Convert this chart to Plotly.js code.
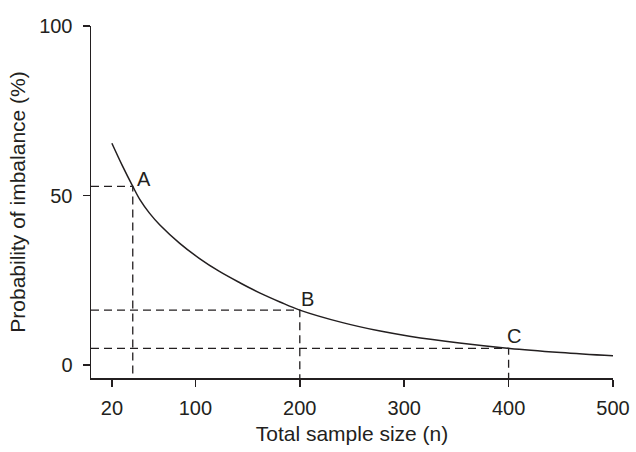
<!DOCTYPE html>
<html>
<head>
<meta charset="utf-8">
<script src="https://cdn.plot.ly/plotly-3.0.1.min.js"></script>
<style>html,body{margin:0;padding:0;background:#fff;}#chart{width:636px;height:452px;}</style>
</head>
<body>
<div id="chart"></div>
<script>
// Curve: total sample size vs probability of imbalance (%)
const sampleSize = [20, 30, 40, 47, 56, 66, 85, 104, 123, 143, 162, 181, 200, 241, 277, 305, 353, 401, 450, 500];
const imbalancePct = [65.4, 58.8, 52.7, 48.7, 44.8, 41.3, 35.9, 31.4, 27.6, 24.2, 21.2, 18.6, 16.2, 12.5, 10.0, 8.5, 6.5, 4.9, 3.7, 2.7];
// Reference points
const refLabels = ["A", "B", "C"];
const refX = [40, 200, 400];
const refY = [52.7, 16.2, 4.9];
// Axis ticks
const xTicks = [20, 100, 200, 300, 400, 500];
const yTicks = [0, 50, 100];

const xMin = 0, xMax = 500, yMin = -3.83, yMax = 100;
const ink = "#231f20";
const fam = "Liberation Sans, Arial, sans-serif";

const traces = [{
  x: sampleSize, y: imbalancePct, type: "scatter", mode: "lines",
  line: {color: ink, width: 1.5, shape: "spline", smoothing: 1},
  hoverinfo: "skip"
}];
refX.forEach((rx, i) => {
  traces.push({
    x: [xMin, rx, rx], y: [refY[i], refY[i], yMin],
    type: "scatter", mode: "lines",
    line: {color: ink, width: 1.3, dash: "8px,5px"},
    hoverinfo: "skip"
  });
});

const shifts = [[11, 7], [8, 11], [5, 12]];
const annotations = refLabels.map((t, i) => ({
  x: refX[i], y: refY[i], text: t, showarrow: false,
  xanchor: "center", yanchor: "middle",
  xshift: shifts[i][0], yshift: shifts[i][1],
  font: {family: fam, size: 20, color: ink}
}));

const layout = {
  width: 636, height: 452,
  margin: {l: 91, r: 23, t: 26, b: 74},
  paper_bgcolor: "#fff", plot_bgcolor: "#fff",
  showlegend: false,
  font: {family: fam, size: 20, color: ink},
  xaxis: {
    range: [xMin, xMax], tickvals: xTicks, ticktext: xTicks.map(String),
    showgrid: false, zeroline: false, showline: true, linecolor: ink, linewidth: 1.5,
    ticks: "outside", ticklen: 7, tickwidth: 1.5, tickcolor: ink,
    ticklabelstandoff: 4,
    tickfont: {size: 20, color: ink},
    title: {text: "Total sample size (n)", font: {size: 21, color: ink}, standoff: 9}
  },
  yaxis: {
    range: [yMin, yMax], tickvals: yTicks, ticktext: yTicks.map(String),
    showgrid: false, zeroline: false, showline: true, linecolor: ink, linewidth: 1.5,
    ticks: "outside", ticklen: 7, tickwidth: 1.5, tickcolor: ink,
    ticklabelstandoff: 6,
    tickfont: {size: 20, color: ink},
    title: {text: "Probability of imbalance (%)", font: {size: 21, color: ink}, standoff: 8}
  },
  annotations: annotations
};

Plotly.newPlot("chart", traces, layout, {displayModeBar: false, staticPlot: true});
</script>
</body>
</html>
